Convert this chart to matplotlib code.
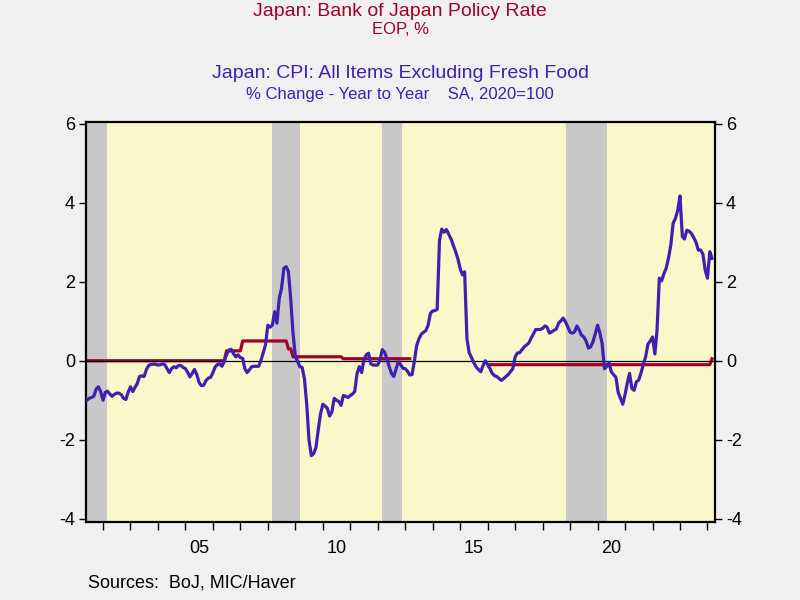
import matplotlib
matplotlib.use("Agg")
import matplotlib.pyplot as plt
import numpy as np
import pandas as pd

plt.rcParams["font.family"] = ["Liberation Sans", "DejaVu Sans"]

# Japan CPI ex fresh food, % y/y (SA), monthly from Apr 2001
cpi_start = "2001-04-01"
cpi_2001 = [-0.88, -0.9, -1.0, -0.95, -0.93, -0.9, -0.72, -0.66, -0.78]
cpi_2002 = [-1.0, -0.8, -0.77, -0.84, -0.9, -0.85, -0.82, -0.82, -0.86, -0.95, -0.98, -0.8]
cpi_2003 = [-0.66, -0.78, -0.68, -0.58, -0.4, -0.38, -0.4, -0.22, -0.12, -0.09, -0.09, -0.09]
cpi_2004 = [-0.11, -0.1, -0.08, -0.1, -0.2, -0.3, -0.2, -0.15, -0.18, -0.12, -0.12, -0.17]
cpi_2005 = [-0.2, -0.3, -0.41, -0.32, -0.22, -0.35, -0.55, -0.63, -0.62, -0.5, -0.44, -0.42]
cpi_2006 = [-0.3, -0.15, -0.1, -0.08, -0.14, -0.02, 0.15, 0.27, 0.29, 0.18, 0.1, 0.15]
cpi_2007 = [0.08, 0.06, -0.2, -0.3, -0.23, -0.15, -0.14, -0.14, -0.14, 0.0, 0.2, 0.4]
cpi_2008 = [0.9, 0.85, 0.9, 1.24, 0.95, 1.58, 1.83, 2.34, 2.38, 2.26, 1.54, 0.69]
cpi_2009 = [0.1, -0.02, -0.15, -0.17, -0.45, -1.1, -2.0, -2.4, -2.35, -2.2, -1.75, -1.35]
cpi_2010 = [-1.1, -1.15, -1.2, -1.4, -1.3, -0.95, -1.0, -1.03, -1.13, -0.88, -0.9, -0.93]
cpi_2011 = [-0.88, -0.84, -0.78, -0.32, -0.15, -0.3, 0.03, 0.15, 0.19, -0.08, -0.11, -0.11]
cpi_2012 = [-0.11, 0.02, 0.28, 0.22, 0.05, -0.15, -0.32, -0.4, -0.2, -0.03, -0.1, -0.19]
cpi_2013 = [-0.2, -0.27, -0.36, -0.35, -0.02, 0.38, 0.55, 0.67, 0.72, 0.76, 0.9, 1.2]
cpi_2014 = [1.26, 1.27, 1.3, 3.05, 3.33, 3.25, 3.32, 3.2, 3.08, 2.92, 2.76, 2.58]
cpi_2015 = [2.33, 2.17, 2.25, 0.55, 0.2, 0.08, -0.05, -0.16, -0.22, -0.28, -0.12, 0.0]
cpi_2016 = [-0.1, -0.2, -0.32, -0.38, -0.4, -0.45, -0.5, -0.45, -0.4, -0.35, -0.27, -0.2]
cpi_2017 = [0.1, 0.2, 0.2, 0.28, 0.35, 0.4, 0.45, 0.57, 0.68, 0.79, 0.79, 0.79]
cpi_2018 = [0.82, 0.88, 0.85, 0.7, 0.73, 0.77, 0.8, 0.95, 1.01, 1.08, 0.98, 0.86]
cpi_2019 = [0.72, 0.7, 0.73, 0.88, 0.78, 0.65, 0.6, 0.5, 0.32, 0.35, 0.48, 0.68]
cpi_2020 = [0.9, 0.7, 0.44, -0.2, -0.15, -0.05, -0.28, -0.35, -0.42, -0.8, -0.95, -1.1]
cpi_2021 = [-0.85, -0.55, -0.32, -0.7, -0.75, -0.53, -0.49, -0.3, -0.1, 0.1, 0.42, 0.5]
cpi_2022 = [0.6, 0.17, 0.75, 2.09, 2.02, 2.2, 2.34, 2.6, 2.93, 3.48, 3.6, 3.8]
cpi_2023 = [4.17, 3.14, 3.08, 3.3, 3.28, 3.22, 3.12, 3.0, 2.8, 2.8, 2.7, 2.3]
cpi_2024 = [2.09, 2.76, 2.59]

# BoJ policy rate, EOP %, given as change points
rate_change_dates = ["2001-04-01", "2006-07-01", "2007-02-01", "2008-10-01",
                     "2008-12-01", "2010-10-01", "2016-02-01", "2024-03-01"]
rate_change_values = [0.0, 0.25, 0.5, 0.3, 0.1, 0.05, -0.1, 0.05]
rate_gap = ("2013-04-01", "2016-01-01")
rate_end = "2024-03-01"

recessions = [("2000-11-01", "2002-02-28"), ("2008-03-01", "2009-02-25"),
              ("2012-02-20", "2012-11-25"), ("2018-11-10", "2020-05-08")]

year_labels = ["05", "10", "15", "20"]
label_years = [2005, 2010, 2015, 2020]
y_ticks = [-4, -2, 0, 2, 4, 6]

cpi = np.array(cpi_2001 + cpi_2002 + cpi_2003 + cpi_2004 + cpi_2005 + cpi_2006
               + cpi_2007 + cpi_2008 + cpi_2009 + cpi_2010 + cpi_2011 + cpi_2012
               + cpi_2013 + cpi_2014 + cpi_2015 + cpi_2016 + cpi_2017 + cpi_2018
               + cpi_2019 + cpi_2020 + cpi_2021 + cpi_2022 + cpi_2023 + cpi_2024)
cpi_dates = pd.date_range(cpi_start, periods=len(cpi), freq="MS")

months = pd.date_range(rate_change_dates[0], rate_end, freq="MS")
rate = pd.Series(rate_change_values, index=pd.to_datetime(rate_change_dates))
rate = rate.reindex(months).ffill()
rate[rate_gap[0]:rate_gap[1]] = np.nan

red = "#A0002A"
blue = "#4020B0"

fig = plt.figure(figsize=(8, 6), dpi=100, facecolor="#F0F0F0")
ax = fig.add_axes([86 / 800, 78 / 600, 629 / 800, 400 / 600])
ax.set_facecolor("#FAF8CA")

for start, end in recessions:
    ax.axvspan(pd.Timestamp(start), pd.Timestamp(end), color="#C8C8C8", lw=0, zorder=0)

ax.plot(rate.index, rate.values, color=red, lw=2.3, zorder=2)
ax.axhline(0, color="black", lw=0.9, zorder=3)
ax.plot(cpi_dates, cpi, color=blue, lw=2.3, zorder=4)

ax.set_xlim(pd.Timestamp("2001-05-20"), pd.Timestamp("2024-04-10"))
ax.set_ylim(-4.08, 6.04)

ax.set_yticks(y_ticks)
ax.set_yticklabels([str(v) for v in y_ticks])
ax.tick_params(axis="y", which="major", direction="out", length=5, width=1,
               left=True, right=True, labelleft=True, labelright=True,
               labelsize=13, pad=3)

ax.set_xticks([pd.Timestamp(f"{y}-01-01") for y in range(2002, 2025)])
ax.set_xticklabels([])
ax.set_xticks([pd.Timestamp(f"{y}-07-01") for y in label_years], minor=True)
ax.set_xticklabels(year_labels, minor=True)
ax.tick_params(axis="x", which="major", direction="out", length=6, width=1)
ax.tick_params(axis="x", which="minor", length=0, labelsize=13, pad=13)

for sp in ax.spines.values():
    sp.set_linewidth(1.6)
    sp.set_color("black")

fig.text(0.5, 1 - 12 / 600, "Japan: Bank of Japan Policy Rate", color=red,
         fontsize=14, ha="center", va="center")
fig.text(0.5, 1 - 29 / 600, "EOP, %", color=red, fontsize=12, ha="center", va="center")
fig.text(0.5, 1 - 73 / 600, "Japan: CPI: All Items Excluding Fresh Food", color=blue,
         fontsize=14, ha="center", va="center")
fig.text(0.5, 1 - 94 / 600, "% Change - Year to Year    SA, 2020=100", color=blue,
         fontsize=12, ha="center", va="center")
fig.text(88 / 800, 1 - 583 / 600, "Sources:  BoJ, MIC/Haver", fontsize=13,
         ha="left", va="center")

fig.savefig("out.png", dpi=100, facecolor=fig.get_facecolor())
